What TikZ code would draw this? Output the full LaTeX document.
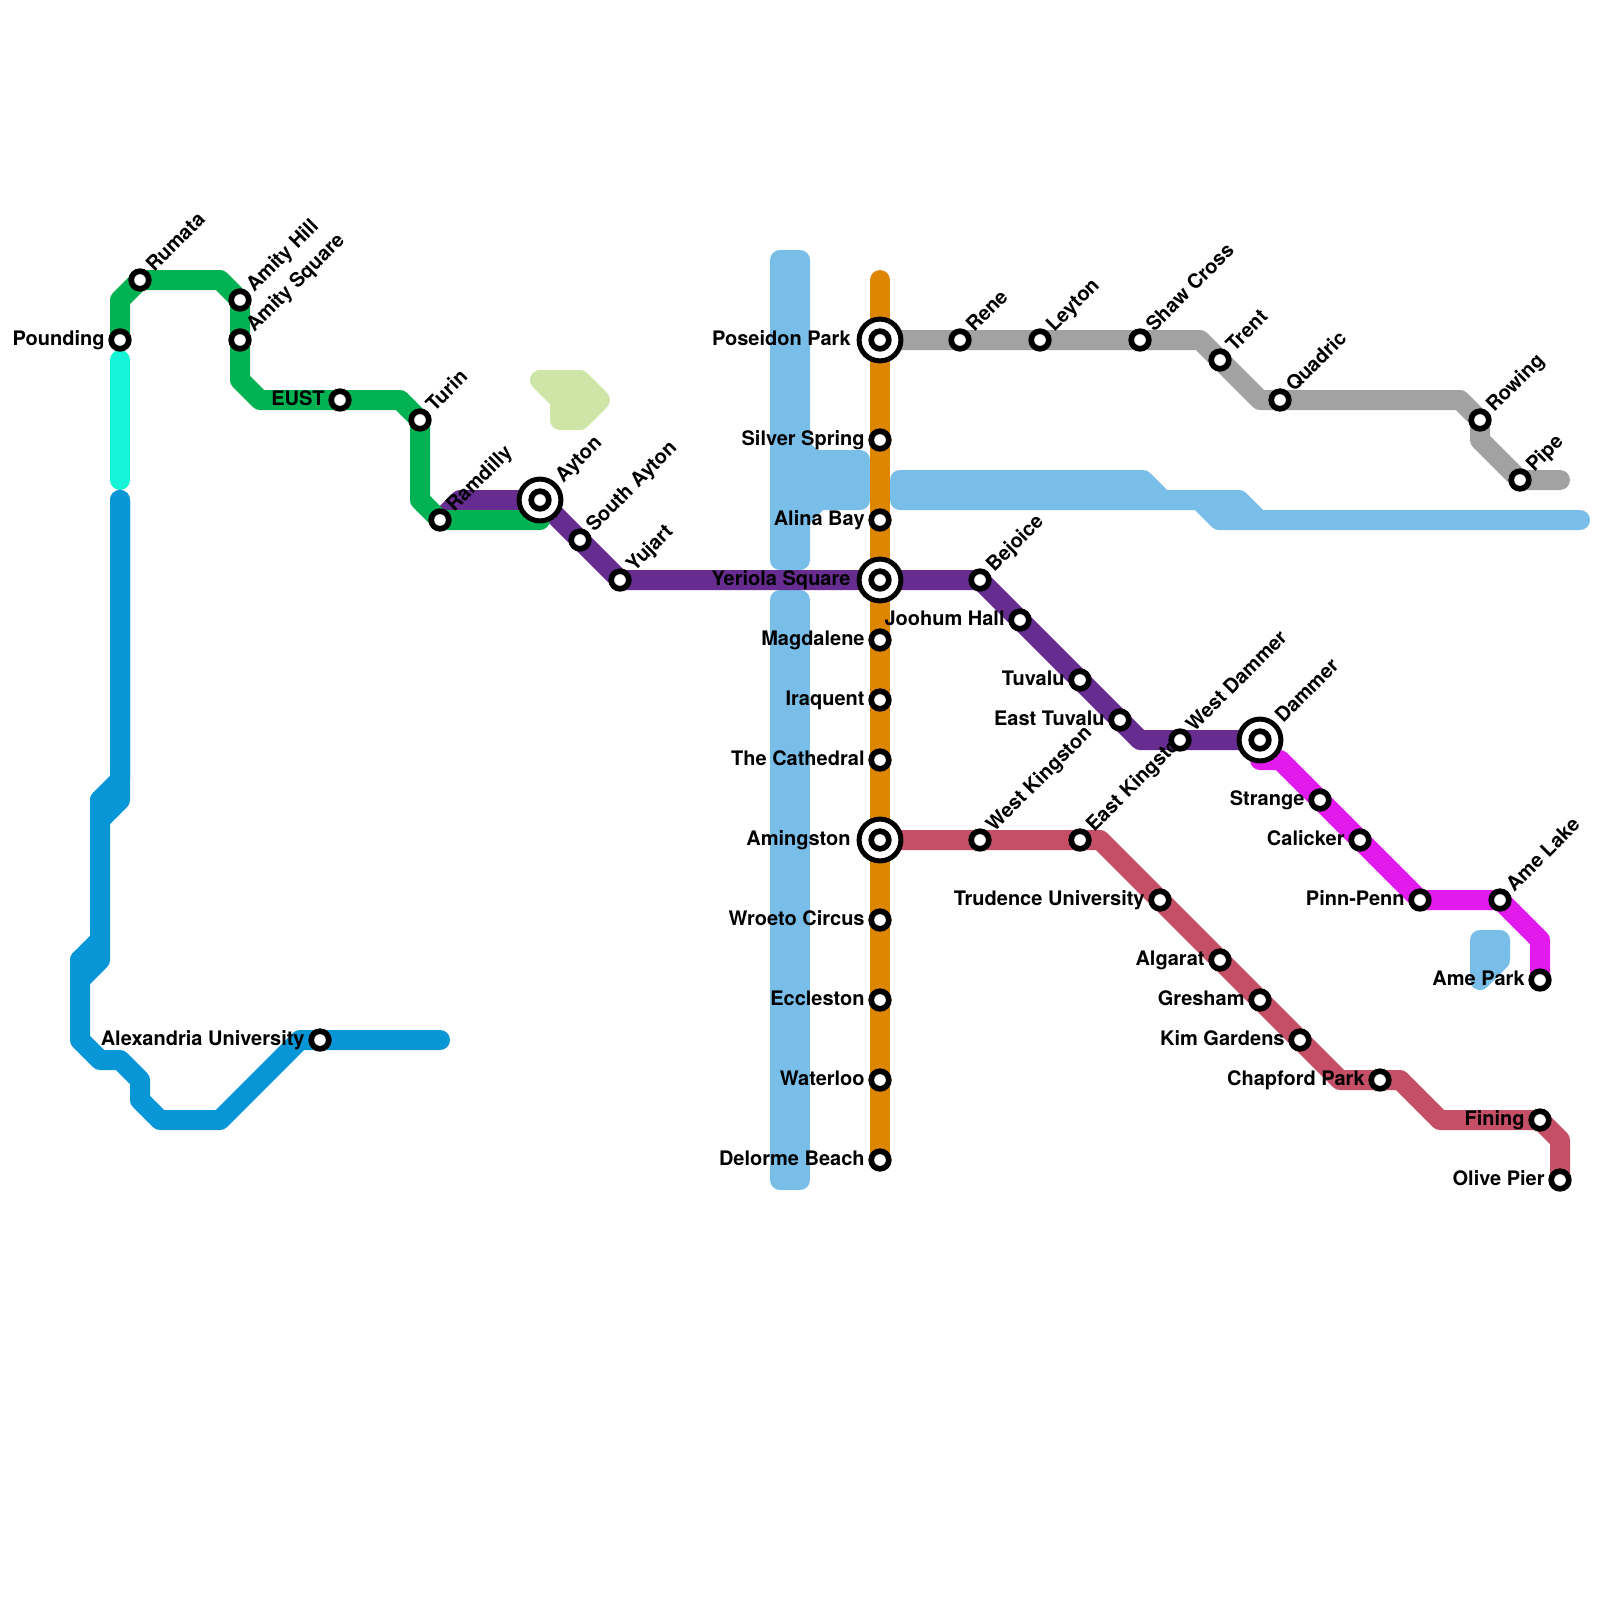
\documentclass[tikz,border=0pt]{standalone}
\usepackage{fontspec}
\setmainfont{TeX Gyre Heros}
\pgfdeclarelayer{lines}
\pgfdeclarelayer{labels}
\pgfsetlayers{lines,labels,main}
\definecolor{cGreen}{HTML}{00B251}
\definecolor{cPurple}{HTML}{662C90}
\definecolor{cOrange}{HTML}{DF8600}
\definecolor{cGray}{HTML}{A2A2A2}
\definecolor{cBlue}{HTML}{0896D7}
\definecolor{cRed}{HTML}{C44F67}
\definecolor{cMag}{HTML}{E31AEE}
\definecolor{cCyan}{HTML}{15F4D9}
\definecolor{cSky}{HTML}{79BDE9}
\definecolor{cPale}{HTML}{CFE4A7}
\tikzset{
  stn/.style={circle,draw=black,fill=white,line width=2.85pt,inner sep=0pt,minimum size=8.8pt},
  hub/.style={circle,draw=black,fill=white,line width=2.5pt,inner sep=0pt,minimum size=20.9pt},
  lbl/.style={font=\fontsize{10pt}{12pt}\selectfont\bfseries,text=black,inner sep=0pt},
  lineL/.style={line width=10pt,line cap=round,line join=round},
  area/.style={line width=10pt,line join=round}
}
\newcommand{\labL}[3]{\begin{pgfonlayer}{labels}\node[lbl,anchor=base east] (#1-t) at ([xshift=#3,yshift=-2.5pt]#1.center) {#2};\end{pgfonlayer}}
\newcommand{\sL}[4]{\node[stn] (#1) at (#2,#3) {};\labL{#1}{#4}{-7.5pt}}
\newcommand{\sR}[4]{\node[stn] (#1) at (#2,#3) {};\begin{pgfonlayer}{labels}\node[lbl,anchor=base west,rotate=45] (#1-t) at ([xshift=7pt,yshift=3.5pt]#1.center) {#4};\end{pgfonlayer}}
\newcommand{\hL}[4]{\node[hub] (#1) at (#2,#3) {};\node[stn] (#1-c) at (#1.center) {};\labL{#1}{#4}{-14.5pt}}
\newcommand{\hR}[4]{\node[hub] (#1) at (#2,#3) {};\node[stn] (#1-c) at (#1.center) {};\begin{pgfonlayer}{labels}\node[lbl,anchor=base west,rotate=45] (#1-t) at ([xshift=11.5pt,yshift=8pt]#1.center) {#4};\end{pgfonlayer}}
\begin{document}
\begin{tikzpicture}[x=0.5pt,y=-0.5pt]
\useasboundingbox (0,0) rectangle (1600,1600);
% stations
\sL{pounding}{120}{340}{Pounding}
\sR{rumata}{140}{280}{Rumata}
\sR{amityhill}{240}{300}{Amity Hill}
\sR{amitysq}{240}{340}{Amity Square}
\sL{eust}{340}{400}{EUST}
\sR{turin}{420}{420}{Turin}
\sR{ramdilly}{440}{520}{Ramdilly}
\hR{ayton}{540}{500}{Ayton}
\sR{southayton}{580}{540}{South Ayton}
\sR{yujart}{620}{580}{Yujart}
\hL{poseidon}{880}{340}{Poseidon Park}
\sL{silver}{880}{440}{Silver Spring}
\sL{alina}{880}{520}{Alina Bay}
\hL{yeriola}{880}{580}{Yeriola Square}
\sL{magdalene}{880}{640}{Magdalene}
\sL{iraquent}{880}{700}{Iraquent}
\sL{cathedral}{880}{760}{The Cathedral}
\hL{amingston}{880}{840}{Amingston}
\sL{wroeto}{880}{920}{Wroeto Circus}
\sL{eccleston}{880}{1000}{Eccleston}
\sL{waterloo}{880}{1080}{Waterloo}
\sL{delorme}{880}{1160}{Delorme Beach}
\sR{rene}{960}{340}{Rene}
\sR{leyton}{1040}{340}{Leyton}
\sR{shaw}{1140}{340}{Shaw Cross}
\sR{trent}{1220}{360}{Trent}
\sR{quadric}{1280}{400}{Quadric}
\sR{rowing}{1480}{420}{Rowing}
\sR{pipe}{1520}{480}{Pipe}
\sR{bejoice}{980}{580}{Bejoice}
\sL{joohum}{1020}{620}{Joohum Hall}
\sL{tuvalu}{1080}{680}{Tuvalu}
\sL{etuvalu}{1120}{720}{East Tuvalu}
\sR{wdammer}{1180}{740}{West Dammer}
\hR{dammer}{1260}{740}{Dammer}
\sL{strange}{1320}{800}{Strange}
\sL{calicker}{1360}{840}{Calicker}
\sL{pinn}{1420}{900}{Pinn-Penn}
\sR{amelake}{1500}{900}{Ame Lake}
\sL{amepark}{1540}{980}{Ame Park}
\sR{wkingston}{980}{840}{West Kingston}
\sR{ekingston}{1080}{840}{East Kingston}
\sL{trudence}{1160}{900}{Trudence University}
\sL{algarat}{1220}{960}{Algarat}
\sL{gresham}{1260}{1000}{Gresham}
\sL{kim}{1300}{1040}{Kim Gardens}
\sL{chapford}{1380}{1080}{Chapford Park}
\sL{fining}{1540}{1120}{Fining}
\sL{olive}{1560}{1180}{Olive Pier}
\sL{alexandria}{320}{1040}{Alexandria University}
% bends and free ends
\coordinate (g1) at (120,300); \coordinate (g2) at (220,280); \coordinate (g3) at (240,380);
\coordinate (g4) at (260,400); \coordinate (g5) at (400,400); \coordinate (g6) at (420,500);
\coordinate (g7) at (540,520);
\coordinate (p1) at (460,500); \coordinate (p2) at (1140,740);
\coordinate (o1) at (880,280);
\coordinate (e1) at (1200,340); \coordinate (e2) at (1260,400); \coordinate (e3) at (1460,400);
\coordinate (e4) at (1480,440); \coordinate (e5) at (1560,480);
\coordinate (m1) at (1260,760); \coordinate (m2) at (1280,760); \coordinate (m3) at (1540,940);
\coordinate (r1) at (1100,840); \coordinate (r2) at (1340,1080); \coordinate (r3) at (1400,1080);
\coordinate (r4) at (1440,1120); \coordinate (r5) at (1560,1140);
\coordinate (c1) at (120,360); \coordinate (c2) at (120,480);
\coordinate (b1) at (120,500); \coordinate (b2) at (120,780); \coordinate (b3) at (100,800);
\coordinate (b4) at (100,940); \coordinate (b5) at (80,960); \coordinate (b6) at (80,1040);
\coordinate (b7) at (100,1060); \coordinate (b8) at (120,1060); \coordinate (b9) at (140,1080);
\coordinate (b10) at (140,1100); \coordinate (b11) at (160,1120); \coordinate (b12) at (220,1120);
\coordinate (b13) at (300,1040); \coordinate (b14) at (440,1040);
\coordinate (b15) at (120,800); \coordinate (b16) at (100,820);
\coordinate (b17) at (100,960); \coordinate (b18) at (80,980);
\begin{pgfonlayer}{lines}
% pale blue and pale green areas
\filldraw[cSky,area] (780,260) -- (800,260) -- (800,447) -- (813,460) -- (860,460) -- (860,500) -- (819,500) -- (800,519) -- (800,560) -- (780,560) -- cycle;
\filldraw[cSky,area] (780,600) rectangle (800,1180);
\filldraw[cSky,area] (900,480) -- (1143,480) -- (1163,500) -- (1239,500) -- (1259,520) -- (1580,520) -- (1219,520) -- (1199,500) -- (900,500) -- cycle;
\filldraw[cSky,area] (1480,940) -- (1500,940) -- (1500,960) -- (1480,980) -- cycle;
\filldraw[cPale,area] (540,380) -- (580,380) -- (600,400) -- (580,420) -- (560,420) -- (560,400) -- cycle;
% lines
\draw[lineL,cBlue] (b1) -- (b2) -- (b3) -- (b4) -- (b5) -- (b6) -- (b7) -- (b8) -- (b9) -- (b10) -- (b11) -- (b12) -- (b13) -- (alexandria.center) -- (b14);
\draw[lineL,cBlue] (b1) -- (b15) -- (b16) -- (b3);
\draw[lineL,cBlue] (b4) -- (b17) -- (b18) -- (b5);
\fill[cBlue] (b2) -- (b15) -- (b16) -- (b3) -- cycle;
\fill[cBlue] (b4) -- (b17) -- (b18) -- (b5) -- cycle;
\draw[lineL,cCyan] (c1) -- (c2);
\draw[lineL,cPurple] (ramdilly.center) -- (p1) -- (ayton.center) -- (southayton.center) -- (yujart.center) -- (yeriola.center) -- (bejoice.center) -- (joohum.center) -- (tuvalu.center) -- (etuvalu.center) -- (p2) -- (wdammer.center) -- (dammer.center);
\draw[lineL,cGreen] (pounding.center) -- (g1) -- (rumata.center) -- (g2) -- (amityhill.center) -- (amitysq.center) -- (g3) -- (g4) -- (eust.center) -- (g5) -- (turin.center) -- (g6) -- (ramdilly.center) -- (g7);
\draw[lineL,cGray] (poseidon.center) -- (rene.center) -- (leyton.center) -- (shaw.center) -- (e1) -- (trent.center) -- (e2) -- (quadric.center) -- (e3) -- (rowing.center) -- (e4) -- (pipe.center) -- (e5);
\draw[lineL,cMag] (m1) -- (m2) -- (strange.center) -- (calicker.center) -- (pinn.center) -- (amelake.center) -- (m3) -- (amepark.center);
\draw[lineL,cRed] (amingston.center) -- (wkingston.center) -- (ekingston.center) -- (r1) -- (trudence.center) -- (algarat.center) -- (gresham.center) -- (kim.center) -- (r2) -- (chapford.center) -- (r3) -- (r4) -- (fining.center) -- (r5) -- (olive.center);
\draw[lineL,cOrange] (o1) -- (poseidon.center) -- (silver.center) -- (alina.center) -- (yeriola.center) -- (magdalene.center) -- (iraquent.center) -- (cathedral.center) -- (amingston.center) -- (wroeto.center) -- (eccleston.center) -- (waterloo.center) -- (delorme.center);
\end{pgfonlayer}
\end{tikzpicture}
\end{document}
